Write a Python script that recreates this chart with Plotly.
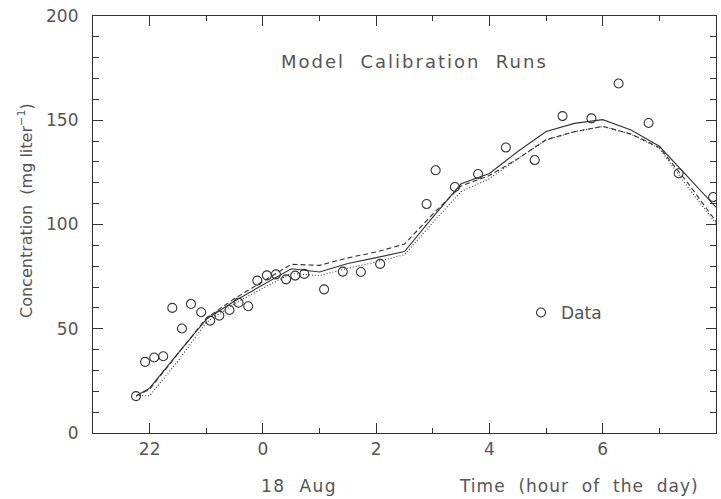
import plotly.graph_objects as go

# Data (hours relative to midnight of 18 Aug; negative = previous day)
obs_hour = [-2.24, -2.08, -1.92, -1.76, -1.60, -1.43, -1.27, -1.09, -0.93, -0.77,
            -0.59, -0.43, -0.26, -0.10, 0.07, 0.23, 0.41, 0.57, 0.73, 1.08,
            1.41, 1.73, 2.07, 2.89, 3.05, 3.39, 3.80, 4.29, 4.80, 5.29,
            5.80, 6.28, 6.81, 7.34, 7.95]
obs_conc = [17.7, 34.1, 36.2, 36.8, 60.0, 50.1, 61.9, 57.9, 53.9, 56.3,
            59.0, 62.5, 60.8, 73.1, 75.6, 76.1, 73.7, 75.5, 76.3, 68.9,
            77.4, 77.2, 81.1, 109.8, 126.0, 118.0, 124.2, 136.9, 130.9, 152.0,
            150.9, 167.6, 148.7, 124.6, 113.2]

model_hour = [-2.24, -2.0, -1.5, -1.0, -0.5, 0.0, 0.5, 1.0, 1.5, 2.0, 2.5,
              3.0, 3.5, 4.0, 4.5, 5.0, 5.5, 6.0, 6.5, 7.0, 7.5, 8.0]
run_solid = [17.7, 21.5, 38.2, 54.5, 63.3, 71.2, 78.8, 77.2, 81.3, 84.1, 87.0,
             103.5, 119.5, 124.5, 135.0, 144.6, 148.5, 150.3, 145.3, 137.5, 123.0, 108.3]
run_dashed = [17.7, 21.0, 38.0, 55.0, 64.5, 72.8, 80.9, 80.4, 84.0, 86.8, 90.6,
              105.0, 118.5, 123.5, 131.5, 140.7, 144.5, 147.1, 143.4, 137.0, 120.0, 101.5]
run_dotted = [17.9, 17.9, 34.5, 53.0, 62.0, 69.5, 76.5, 75.5, 79.0, 82.0, 85.5,
              101.0, 115.8, 122.0, 131.5, 140.5, 144.5, 147.0, 143.3, 136.5, 118.0, 100.5]

x_tickvals = [-2, 0, 2, 4, 6, 8]
x_ticktext = ["22", "0", "2", "4", "6", "8"]

FONT = "DejaVu Sans"
TXT = "#555555"
INK = "#333333"

PL, PR, PT, PB = 93, 716, 16, 433  # plot area in pixels


def px(xp):
    return (xp - PL) / (PR - PL)


def py(yp):
    return (PB - yp) / (PB - PT)


def spaced(s, ls):
    return f'<span style="letter-spacing:{ls}px">{s}</span>'


fig = go.Figure()
fig.add_trace(go.Scatter(x=model_hour, y=run_solid, mode="lines",
                         line=dict(color=INK, width=1.1, dash="solid"), showlegend=False))
fig.add_trace(go.Scatter(x=model_hour, y=run_dashed, mode="lines",
                         line=dict(color=INK, width=1.1, dash="5px,3px"), showlegend=False))
fig.add_trace(go.Scatter(x=model_hour, y=run_dotted, mode="lines",
                         line=dict(color=INK, width=1.1, dash="1px,2px"), showlegend=False))
fig.add_trace(go.Scatter(x=obs_hour, y=obs_conc, mode="markers", name="Data",
                         marker=dict(symbol="circle-open", size=9, color=INK,
                                     line=dict(width=1.1, color=INK))))

fig.update_layout(
    width=721, height=499,
    margin=dict(l=PL, r=721 - PR, t=PT, b=499 - PB),
    paper_bgcolor="white", plot_bgcolor="white",
    font=dict(family=FONT, size=17, color=TXT),
    legend=dict(x=px(521), y=py(313), xanchor="left", yanchor="middle",
                bgcolor="rgba(0,0,0,0)", font=dict(size=17, color=TXT),
                itemwidth=30, tracegroupgap=0),
    showlegend=True,
)

fig.update_xaxes(
    range=[-3, 8], tickvals=x_tickvals, ticktext=x_ticktext,
    showgrid=False, zeroline=False, showline=True, linecolor=INK, linewidth=1.2,
    mirror="ticks", ticks="inside", ticklen=10, tickcolor=INK, tickwidth=1,
    tickfont=dict(family=FONT, size=17, color=TXT),
    minor=dict(dtick=1, tick0=0, ticks="inside", ticklen=5, tickcolor=INK, tickwidth=1, showgrid=False),
)
fig.update_yaxes(
    range=[0, 200], tickvals=[0, 50, 100, 150, 200],
    showgrid=False, zeroline=False, showline=True, linecolor=INK, linewidth=1.2,
    mirror="ticks", ticks="inside", ticklen=10, tickcolor=INK, tickwidth=1,
    tickfont=dict(family=FONT, size=17, color=TXT), ticklabelstandoff=10,
    minor=dict(dtick=10, tick0=0, ticks="inside", ticklen=6, tickcolor=INK, tickwidth=1, showgrid=False),
)

common = dict(xref="paper", yref="paper", showarrow=False, xanchor="center", yanchor="middle")
fig.add_annotation(text=spaced("Model  Calibration  Runs", 2),
                   x=px(414), y=py(62), font=dict(family=FONT, size=18, color=TXT), **common)
fig.add_annotation(text="Concentration  (mg liter<sup>−1</sup>)",
                   x=px(25), y=py(211), textangle=-90,
                   font=dict(family=FONT, size=16, color=TXT), **common)
fig.add_annotation(text=spaced("18  Aug", 1.5),
                   x=px(299), y=py(486), font=dict(family=FONT, size=17, color=TXT), **common)
fig.add_annotation(text=spaced("Time  (hour  of  the  day)", 1),
                   x=px(579), y=py(486), font=dict(family=FONT, size=17, color=TXT), **common)

fig.write_html("out.html")
